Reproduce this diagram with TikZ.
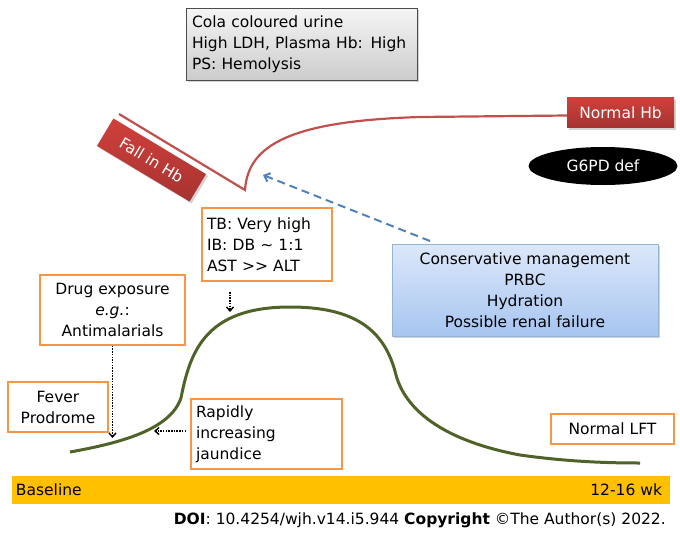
\documentclass[tikz,border=0pt]{standalone}
\usepackage{fontspec}
\setmainfont{DejaVu Sans}
\usetikzlibrary{shapes.geometric,arrows.meta,shadows}
\definecolor{orng}{HTML}{F79646}
\definecolor{redc}{HTML}{C0504D}
\definecolor{redbox}{HTML}{D0403C}
\definecolor{bluec}{HTML}{4F81BD}
\definecolor{greenc}{HTML}{4F6228}
\definecolor{barc}{HTML}{FFC000}
\definecolor{bluetop}{RGB}{220,232,250}
\definecolor{bluebot}{RGB}{167,197,240}
\begin{document}
\begin{tikzpicture}[x=1pt,y=-1pt,
  every node/.style={font=\fontsize{15.5}{21}\selectfont, inner sep=0pt},
  obox/.style={draw=orng, line width=1.5pt, fill=white},
  dotarrow/.style={dash pattern=on 1.5pt off 1.2pt, line width=1.4pt, -{Straight Barb[length=4pt,width=7pt]}},
  shad/.style={drop shadow={shadow xshift=2pt, shadow yshift=-2pt, opacity=0.35}}
]
\useasboundingbox (0,0) rectangle (680,533);

% top gray box
\node[shad, draw=black!70, line width=0.6pt, top color=gray!8, bottom color=gray!40,
  minimum width=231pt, minimum height=72pt, text width=219pt, align=left]
  (lab) at (301.5,44) {Cola coloured urine\\High LDH, Plasma Hb: High\\PS: Hemolysis};

% Normal Hb
\node[shad, top color=redbox, bottom color=redbox!80!black, minimum width=107pt, minimum height=30pt,
  text=white] (nhb) at (620.5,112.5) {Normal Hb};

% Fall in Hb
\node[shad, top color=redbox, bottom color=redbox!80!black, minimum width=108pt, minimum height=32pt,
  text=white, rotate=-31] (fall) at (151.5,160) {Fall in Hb};

% red curve
\coordinate (rs) at (119,114);
\coordinate (rv) at (245,190);
\draw[redc, line width=2.2pt, line join=miter] (rs) -- (rv) .. controls (248,145) and (290,121) .. (420,117) -- ([yshift=-3pt]nhb.west);

% G6PD
\node[ellipse, fill=black, text=white, minimum width=149pt, minimum height=38pt] (g6) at (603,166) {G6PD def};

% blue box
\node[shad, draw=bluec!60, line width=0.6pt, top color=bluetop, bottom color=bluebot,
  minimum width=266pt, minimum height=92pt, align=center] (cons) at (525,290)
  {Conservative management\\PRBC\\Hydration\\Possible renal failure};

% blue dashed arrow
\coordinate (bs) at (430,241);
\coordinate (be) at (263,175);
\draw[bluec, line width=2pt, dash pattern=on 8pt off 5pt, -{Straight Barb[length=5pt,width=9pt]}] (bs) -- (be);

% TB box
\node[obox, minimum width=130pt, minimum height=73pt, text width=120pt, align=left] (tb) at (267,244.5)
  {TB: Very high\\IB: DB \textasciitilde{} 1:1\\AST >{}> ALT};
\coordinate (ta) at (230,292);
\coordinate (tb2) at (230,312);
\draw[dotarrow] (ta) -- (tb2);

% green curve
\draw[greenc, line width=3pt] (70,452) .. controls (120,443) and (170,430) .. (181,398)
  .. controls (190,352) and (205,307) .. (290,307)
  .. controls (355,307) and (385,330) .. (396,375)
  .. controls (405,408) and (440,440) .. (520,455)
  .. controls (570,462) and (610,463) .. (640,463);

% Drug exposure
\node[obox, minimum width=145pt, minimum height=70pt, align=center] (drug) at (112.5,310)
  {Drug exposure\\\textit{e.g.}:\\Antimalarials};
\coordinate (da) at (112.5,438);
\draw[dotarrow] (drug.south) -- (da);

% Fever
\node[obox, minimum width=100pt, minimum height=50pt, align=center] (fev) at (58,407) {Fever\\Prodrome};

% Rapidly
\node[obox, minimum width=151pt, minimum height=70pt, text width=141pt, align=left] (rap) at (266.5,434)
  {Rapidly\\increasing\\jaundice};
\coordinate (ra) at (186,431);
\coordinate (rb) at (154,431);
\draw[dotarrow] (ra) -- (rb);

% Normal LFT
\node[obox, minimum width=123pt, minimum height=30pt] (lft) at (612.5,429) {Normal LFT};

% baseline bar
\node[fill=barc, minimum width=658pt, minimum height=28pt] (bar) at (341,490) {};
\node[anchor=west] (bl) at ([xshift=4pt]bar.west) {Baseline};
\node[anchor=east] (wk) at ([xshift=-8pt]bar.east) {12-16 wk};

% DOI
\node[anchor=east] (doi) at (666,520) {\textbf{DOI}: 10.4254/wjh.v14.i5.944 \textbf{Copyright} ©The Author(s) 2022.};
\end{tikzpicture}
\end{document}
